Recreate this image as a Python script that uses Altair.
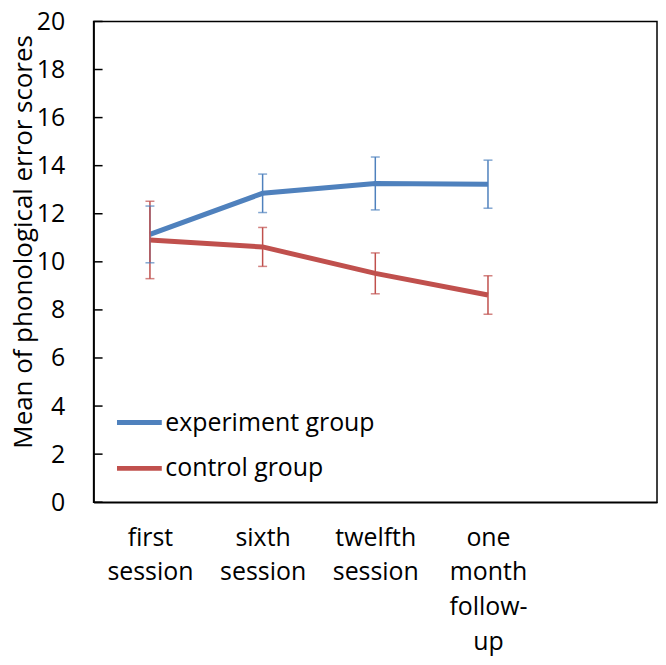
import altair as alt
import pandas as pd

sessions = ["first\nsession", "sixth\nsession", "twelfth\nsession", "one\nmonth\nfollow-\nup"]
x_domain = sessions + [" "]
groups = ["experiment group", "control group"]
colors = ["#4F81BD", "#C0504D"]
exp_mean = [11.14, 12.85, 13.26, 13.23]
exp_err = [1.18, 0.80, 1.10, 1.00]
ctrl_mean = [10.91, 10.62, 9.52, 8.62]
ctrl_err = [1.61, 0.81, 0.85, 0.80]
y_ticks = [0, 2, 4, 6, 8, 10, 12, 14, 16, 18, 20]

rows = []
for s, m, e in zip(sessions, exp_mean, exp_err):
    rows.append({"session": s, "group": groups[0], "mean": m, "lo": m - e, "hi": m + e})
for s, m, e in zip(sessions, ctrl_mean, ctrl_err):
    rows.append({"session": s, "group": groups[1], "mean": m, "lo": m - e, "hi": m + e})
df = pd.DataFrame(rows)
ticks_df = pd.DataFrame({"v": y_ticks})

FONT = "Open Sans"
x_scale = alt.Scale(domain=x_domain, type="point", padding=0.5)

x_enc = alt.X(
    "session:N",
    scale=x_scale,
    axis=alt.Axis(
        title=None,
        ticks=False,
        domain=True,
        labelAngle=0,
        labelAlign="center",
        labelBaseline="top",
        labelPadding=23,
        labelFontSize=25,
        labelLineHeight=35,
        labelFont=FONT,
        labelColor="black",
        labelExpr="split(datum.value, '\\n')",
    ),
)
y_scale = alt.Scale(domain=[0, 20], nice=False)
y_axis = alt.Axis(
    values=y_ticks,
    ticks=False,
    grid=False,
    labelPadding=29,
    labelFontSize=25,
    labelFont=FONT,
    labelColor="black",
    title="Mean of phonological error scores",
    titleFont=FONT,
    titleFontSize=26,
    titleFontWeight="normal",
    titleColor="black",
    titleX=-70,
    titleY=221,
    titleBaseline="middle",
    titleAlign="center",
)
color_enc = alt.Color(
    "group:N",
    scale=alt.Scale(domain=groups, range=colors),
    legend=alt.Legend(
        title=None,
        orient="none",
        legendX=21,
        legendY=378,
        symbolType="stroke",
        symbolSize=2025,
        symbolStrokeWidth=5,
        labelFontSize=25,
        labelFont=FONT,
        labelColor="black",
        labelOffset=1,
        labelLimit=400,
        rowPadding=8,
        padding=0,
    ),
)

base = alt.Chart(df)
lines = base.mark_line(strokeWidth=5).encode(
    x=x_enc, y=alt.Y("mean:Q", scale=y_scale, axis=y_axis), color=color_enc
)
err_color = alt.Color("group:N", scale=alt.Scale(domain=groups, range=colors), legend=None)
rules = base.mark_rule(strokeWidth=1.5).encode(
    x=alt.X("session:N", scale=x_scale),
    y="lo:Q", y2="hi:Q", color=err_color,
)
caps_hi = base.mark_tick(size=9, thickness=1.5, orient="horizontal").encode(
    x=alt.X("session:N", scale=x_scale),
    y="hi:Q", color=err_color,
)
caps_lo = base.mark_tick(size=9, thickness=1.5, orient="horizontal").encode(
    x=alt.X("session:N", scale=x_scale),
    y="lo:Q", color=err_color,
)
tick_marks = alt.Chart(ticks_df).mark_rule(color="black", strokeWidth=1.5).encode(
    y="v:Q", x=alt.value(0), x2=alt.value(9)
)

chart = (
    alt.layer(tick_marks, lines, rules, caps_hi, caps_lo)
    .resolve_scale(color="shared")
    .properties(
        width=566,
        height=483,
        background="white",
        autosize=alt.AutoSizeParams(type="none"),
        padding={"left": 86, "top": 12, "right": 1, "bottom": 154},
    )
    .configure_view(stroke="black", strokeWidth=1.5)
    .configure_axis(domainColor="black", domainWidth=1.5)
)

chart.save("out.html", embed_options={"renderer": "svg", "actions": False})
